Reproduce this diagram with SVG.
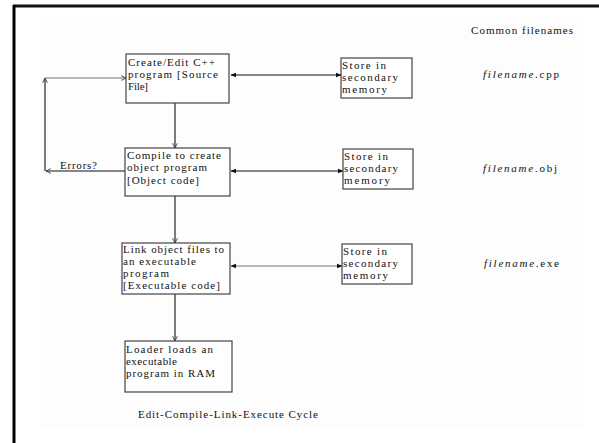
<svg xmlns="http://www.w3.org/2000/svg" width="599" height="443" viewBox="0 0 599 443">
<style>
.box{fill:#fff;stroke:#444;stroke-width:1.2}
.t{font-family:"Liberation Serif","Times New Roman",serif;font-size:11px;fill:#111}
.ln{stroke:#111;stroke-width:1.1;fill:none}
.lg{stroke:#777;stroke-width:1.1;fill:none}
</style>
<defs>
<marker id="ah" viewBox="0 0 10 10" refX="9" refY="5" markerWidth="6" markerHeight="6" orient="auto-start-reverse" markerUnits="userSpaceOnUse">
<path d="M0,1 L10,5 L0,9 z" fill="#111"/>
</marker>
<marker id="ao" viewBox="0 0 10 10" refX="9" refY="5" markerWidth="6" markerHeight="6" orient="auto-start-reverse" markerUnits="userSpaceOnUse">
<path d="M1,1 L9,5 L1,9" fill="none" stroke="#333" stroke-width="1.4"/>
</marker>
</defs>
<rect x="0" y="0" width="599" height="443" fill="#fff"/>
<rect x="41" y="23" width="542" height="405" fill="#fdfdfd"/>
<line x1="13" y1="6" x2="599" y2="6" stroke="#111" stroke-width="3"/>
<line x1="14" y1="5" x2="14" y2="443" stroke="#000" stroke-width="3"/>

<g id="connectors">
<line class="ln" x1="231" y1="75" x2="341" y2="75" marker-start="url(#ah)" marker-end="url(#ah)"/>
<line class="ln" x1="231" y1="171" x2="343" y2="171" marker-start="url(#ah)" marker-end="url(#ah)"/>
<line class="lg" x1="231" y1="266" x2="342" y2="266" marker-start="url(#ah)" marker-end="url(#ah)"/>
<line class="ln" x1="175" y1="103" x2="175" y2="148" marker-end="url(#ao)"/>
<line class="ln" x1="175" y1="196" x2="175" y2="243" marker-end="url(#ao)"/>
<line class="ln" x1="175" y1="294" x2="175" y2="341" marker-end="url(#ao)"/>
<line class="ln" x1="125" y1="171" x2="46" y2="171" marker-end="url(#ao)"/>
<line class="ln" x1="45" y1="171" x2="45" y2="78" marker-end="url(#ao)"/>
<line class="lg" x1="45" y1="78" x2="126" y2="78" marker-end="url(#ao)"/>
<text class="t" x="60" y="169" textLength="37" lengthAdjust="spacing">Errors?</text>
</g>

<g id="edit">
<rect class="box" x="126" y="54" width="103" height="49"/>
<text class="t" x="128" y="66" textLength="87" lengthAdjust="spacing">Create/Edit C++</text>
<text class="t" x="128" y="78" textLength="90" lengthAdjust="spacing">program [Source</text>
<text class="t" x="128" y="90" textLength="20" lengthAdjust="spacing">File]</text>
</g>
<g id="compile">
<rect class="box" x="125" y="148" width="105" height="48"/>
<text class="t" x="127" y="159" textLength="94" lengthAdjust="spacing">Compile to create</text>
<text class="t" x="127" y="171" textLength="80" lengthAdjust="spacing">object program</text>
<text class="t" x="127" y="184" textLength="72" lengthAdjust="spacing">[Object code]</text>
</g>
<g id="link">
<rect class="box" x="122" y="243" width="108" height="51"/>
<text class="t" x="123" y="253" textLength="101" lengthAdjust="spacing">Link object files to</text>
<text class="t" x="123" y="265" textLength="73" lengthAdjust="spacing">an executable</text>
<text class="t" x="123" y="277" textLength="46" lengthAdjust="spacing">program</text>
<text class="t" x="123" y="289" textLength="97" lengthAdjust="spacing">[Executable code]</text>
</g>
<g id="loader">
<rect class="box" x="125" y="341" width="107" height="51"/>
<text class="t" x="126" y="353" textLength="87" lengthAdjust="spacing">Loader loads an</text>
<text class="t" x="126" y="365" textLength="51" lengthAdjust="spacing">executable</text>
<text class="t" x="126" y="377" textLength="89" lengthAdjust="spacing">program in RAM</text>
</g>
<g id="store1">
<rect class="box" x="341" y="58" width="71" height="40"/>
<text class="t" x="342" y="69" textLength="44" lengthAdjust="spacing">Store in</text>
<text class="t" x="342" y="81" textLength="56" lengthAdjust="spacing">secondary</text>
<text class="t" x="342" y="93" textLength="45" lengthAdjust="spacing">memory</text>
</g>
<g id="store2">
<rect class="box" x="343" y="149" width="70" height="40"/>
<text class="t" x="344" y="160" textLength="44" lengthAdjust="spacing">Store in</text>
<text class="t" x="344" y="172" textLength="54" lengthAdjust="spacing">secondary</text>
<text class="t" x="344" y="184" textLength="46" lengthAdjust="spacing">memory</text>
</g>
<g id="store3">
<rect class="box" x="342" y="244" width="70" height="40"/>
<text class="t" x="343" y="255" textLength="44" lengthAdjust="spacing">Store in</text>
<text class="t" x="343" y="267" textLength="55" lengthAdjust="spacing">secondary</text>
<text class="t" x="343" y="279" textLength="45" lengthAdjust="spacing">memory</text>
</g>
<g id="labels">
<text class="t" x="471" y="34" textLength="102" lengthAdjust="spacing">Common filenames</text>
<text class="t" x="483" y="78" textLength="76" lengthAdjust="spacing"><tspan font-style="italic">filename</tspan>.cpp</text>
<text class="t" x="483" y="172" textLength="74" lengthAdjust="spacing"><tspan font-style="italic">filename</tspan>.obj</text>
<text class="t" x="484" y="267" textLength="75" lengthAdjust="spacing"><tspan font-style="italic">filename</tspan>.exe</text>
<text class="t" x="138" y="418" textLength="180" lengthAdjust="spacing">Edit-Compile-Link-Execute Cycle</text>
</g>
</svg>
